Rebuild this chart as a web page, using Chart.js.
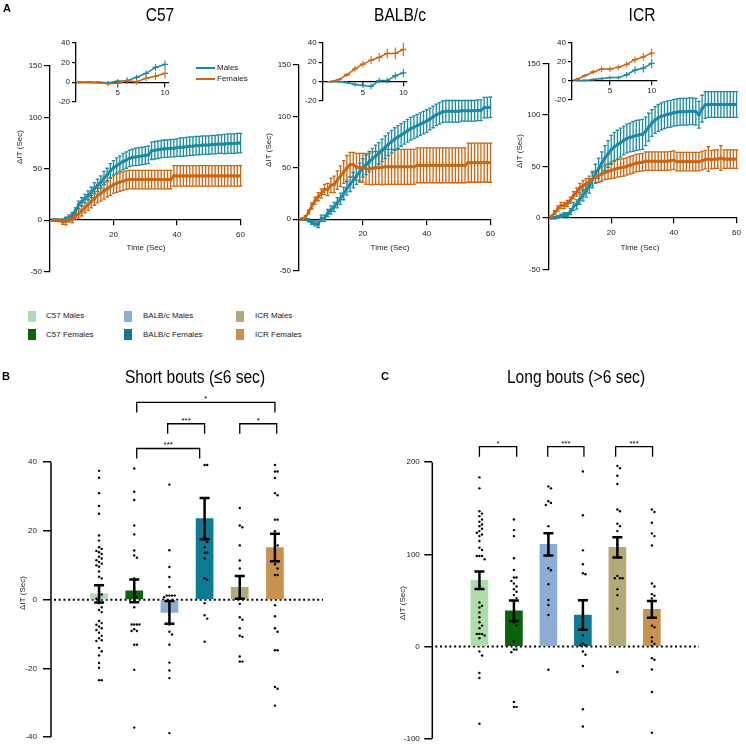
<!DOCTYPE html>
<html>
<head>
<meta charset="utf-8">
<title>ΔIT by strain and sex</title>
<script src="https://cdn.jsdelivr.net/npm/chart.js@4.4.1/dist/chart.umd.min.js"></script>
<style>
  html, body { margin: 0; padding: 0; background: #fff; }
  body { position: relative; width: 746px; height: 748px; overflow: hidden;
         font-family: "Liberation Sans", Arial, sans-serif; color: #000; }
  canvas { position: absolute; }
  .txt { position: absolute; white-space: nowrap; }
  .panel { font-weight: bold; font-size: 11px; line-height: 11px; }
  .title { font-size: 19px; line-height: 19px; transform: translateX(-50%) scaleX(0.82); }
  .leg { font-size: 8px; line-height: 10px; color: #222; }
  .sw { position: absolute; width: 8px; height: 11px; }
  .ln { position: absolute; width: 19px; height: 2px; }
</style>
</head>
<body>
<canvas id="c57" width="250" height="280" style="left:0;top:0"></canvas>
<canvas id="balb" width="250" height="280" style="left:250px;top:0"></canvas>
<canvas id="icr" width="246" height="280" style="left:500px;top:0"></canvas>
<canvas id="c57In" width="140" height="85" style="left:40px;top:30px"></canvas>
<canvas id="balbIn" width="130" height="85" style="left:290px;top:30px"></canvas>
<canvas id="icrIn" width="130" height="85" style="left:540px;top:30px"></canvas>
<canvas id="short" width="373" height="388" style="left:0;top:360px"></canvas>
<canvas id="long" width="373" height="388" style="left:373px;top:360px"></canvas>

<div class="txt panel" style="left:3px;top:3px">A</div>
<div class="txt title" style="left:160px;top:5px">C57</div>
<div class="txt title" style="left:400px;top:5px">BALB/c</div>
<div class="txt title" style="left:642px;top:5px">ICR</div>

<div class="ln" style="left:196px;top:67px;background:#1b8aa3"></div>
<div class="txt leg" style="left:217px;top:63px">Males</div>
<div class="ln" style="left:196px;top:78px;background:#cc6510"></div>
<div class="txt leg" style="left:217px;top:74px">Females</div>

<div class="sw" style="left:28px;top:311px;background:#aedcaa"></div>
<div class="txt leg" style="left:46px;top:311px">C57 Males</div>
<div class="sw" style="left:28px;top:329px;background:#0a620a"></div>
<div class="txt leg" style="left:46px;top:330px">C57 Females</div>
<div class="sw" style="left:124px;top:311px;background:#8eadd6"></div>
<div class="txt leg" style="left:143px;top:311px">BALB/c Males</div>
<div class="sw" style="left:124px;top:329px;background:#0d7b92"></div>
<div class="txt leg" style="left:143px;top:330px">BALB/c Females</div>
<div class="sw" style="left:236px;top:311px;background:#b3aa77"></div>
<div class="txt leg" style="left:255px;top:311px">ICR Males</div>
<div class="sw" style="left:236px;top:329px;background:#c8924e"></div>
<div class="txt leg" style="left:255px;top:330px">ICR Females</div>

<div class="txt panel" style="left:2px;top:371px">B</div>
<div class="txt title" style="left:195px;top:367px">Short bouts (≤6 sec)</div>
<div class="txt panel" style="left:381px;top:371px">C</div>
<div class="txt title" style="left:576px;top:367px">Long bouts (&gt;6 sec)</div>

<script>
// time course, 1 s bins
const seconds = Array.from({ length: 60 }, (_, i) => i + 1);
const timeTicks = [20, 40, 60];
const insetTicks = [5, 10];

const c57Males = [0, 0, 0, -0.5, 1, 1.5, 5, 9, 15, 18,
  21, 24, 27, 31, 34, 37, 41, 44, 48, 51,
  53, 55, 57, 58.5, 60, 61, 61.5, 62, 62.5, 63,
  63.5, 67.5, 68, 68.5, 69, 69.5, 69.5, 70, 70, 70.5,
  71, 71, 71.5, 72, 72, 72.5, 72.5, 73, 73, 73,
  73.5, 73.5, 74, 74, 74, 74.5, 74.5, 74.5, 75, 75];
const c57MalesSem = [1, 1, 1, 1.5, 2, 2, 2.5, 3, 3.5, 4,
  4, 4.5, 5, 5.5, 6, 6, 6.5, 6.5, 7, 7,
  7.5, 7.5, 8, 8, 8, 8, 8.5, 8.5, 8.5, 8.5,
  8.5, 8.5, 8.5, 8.5, 8.5, 8.5, 8.5, 8.5, 8.5, 8.5,
  9, 9, 9, 9, 9, 9, 9, 9, 9, 9,
  9, 9, 9, 9, 9.5, 9.5, 9.5, 9.5, 9.5, 9.5];
const c57Females = [0, 0, -0.5, -1.5, -1, 1.5, 0.5, 4, 6, 9,
  12, 15, 18, 21, 24, 26, 28.5, 30.5, 32.5, 34.5,
  36, 37, 38, 39, 39.5, 39.5, 39.5, 39.5, 39.5, 39.5,
  39.5, 39.5, 39.5, 39.5, 39.5, 39.5, 39.5, 39.5, 43, 43,
  43, 43, 43, 43, 43, 43, 43, 43, 43, 43,
  43, 43, 43, 43, 43, 43, 43, 43, 43, 43];
const c57FemalesSem = [1, 1, 1, 2.5, 3.5, 3.5, 3, 3, 4, 5,
  5, 5.5, 6, 6.5, 7, 7.5, 8, 8, 8.5, 8.5,
  9, 9, 9, 9, 9, 9, 9, 9, 9, 9,
  9, 9, 9, 9, 9, 9, 9, 9, 10, 10,
  10, 10, 10, 10, 10, 10, 10, 10, 10, 10,
  10, 10, 10, 10, 10, 10, 10, 10, 10, 10];

const balbMales = [0, 0, -1, -3, -4, -5, 1, 1, 6, 9,
  12, 16, 20, 25, 30, 34, 38, 42, 46, 50,
  53, 56, 59, 61.5, 64, 67, 70, 73, 75.5, 78,
  80, 82, 84, 86, 88, 89.5, 91, 92.5, 94, 95.5,
  97.5, 99.5, 101.5, 103, 104.5, 105, 105, 105, 105, 105,
  105.5, 105.5, 105.5, 105.5, 105.5, 106, 106, 108.5, 108.5, 109];
const balbMalesSem = [1, 1, 1.5, 2, 2.5, 3, 3, 3, 3.5, 4,
  4.5, 5, 5.5, 6, 6.5, 7, 7.5, 8, 8.5, 9,
  9.5, 10, 10, 10.5, 10.5, 11, 11, 11, 11, 11,
  11, 11, 11, 11, 11, 11, 11, 11, 11, 11,
  10.5, 10.5, 10.5, 10.5, 10.5, 10.5, 10.5, 10.5, 10.5, 10.5,
  10, 10, 10, 10, 10, 10, 10, 10, 10, 10];
const balbFemales = [0, 2, 7, 13, 18, 22, 25, 29, 29, 33,
  34, 38, 42, 46, 50, 53, 53, 51, 50, 50,
  49, 49, 49.5, 50, 50, 50.5, 51, 51, 51, 51,
  51, 51, 51, 51, 51, 51, 52.5, 52.5, 52.5, 52.5,
  52.5, 52.5, 52.5, 52.5, 52.5, 52.5, 52.5, 52.5, 52.5, 52.5,
  52.5, 52.5, 55, 55, 55, 55, 55, 55, 55, 55];
const balbFemalesSem = [1, 1.5, 2, 3, 3.5, 4, 4.5, 5, 6, 7,
  8, 9, 10, 11, 12, 12, 12, 13, 14, 14,
  15, 15, 16, 16, 16, 17, 17, 17, 17, 17,
  17, 17, 17, 17, 17, 17, 17, 17, 17, 17,
  17, 17, 17, 17, 17, 17, 17, 17, 17, 17,
  17, 17, 19, 19, 19, 19, 19, 19, 19, 19];

const icrMales = [0, 0, 1, 2, 3, 3, 6, 11, 13, 18,
  22, 26, 31, 37, 43, 48, 53, 58, 62, 66,
  69, 71, 73, 75, 77, 78, 79, 80, 80.5, 81,
  84, 88, 92, 95, 97, 98.5, 99.5, 100.5, 101, 102,
  102.5, 103, 103, 103, 103.5, 103.5, 103, 100, 106, 109.5,
  110, 110, 110, 110, 110, 110, 110, 110, 110, 110];
const icrMalesSem = [1, 1, 1, 1.5, 2, 2, 3, 4, 4.5, 5,
  5.5, 6, 7, 8, 9, 10, 11, 12, 13, 14,
  14, 14, 14, 14, 14, 14, 14.5, 14.5, 14.5, 14.5,
  14, 13.5, 13, 13, 13, 13, 13, 13, 13, 13,
  13, 13, 13, 13, 13, 13, 13, 13, 13, 13,
  12.5, 12.5, 12.5, 12.5, 12.5, 12.5, 12.5, 12.5, 12.5, 12.5];
const icrFemales = [1, 5, 9, 12, 12, 14, 17, 22, 25, 29,
  31, 33, 35, 37.5, 39.5, 41, 42.5, 44, 45, 46,
  47, 48, 48.5, 49, 50, 51, 52, 53, 53.5, 54,
  55, 55, 55, 55, 55, 55, 55, 55, 55.5, 56,
  54.5, 54.5, 54.5, 54.5, 54.5, 54.5, 54.5, 54.5, 55.5, 56.5,
  57, 56.5, 57, 57, 58, 57, 57, 57, 57, 57];
const icrFemalesSem = [1.5, 2, 2.5, 3, 3, 3, 3, 3.5, 4, 4.5,
  5, 5, 5.5, 6, 6, 6.5, 7, 7, 7.5, 8,
  8.5, 8.5, 8.5, 8.5, 8.5, 8.5, 8.5, 8.5, 8.5, 8.5,
  9, 9, 9, 9, 9, 9, 9, 9, 9, 9,
  9, 9, 9, 9, 9, 9, 9, 9, 9, 9,
  12, 9, 9, 9, 12, 9, 9, 9, 9, 9];

// bout summaries
const groups = ['C57 Males', 'C57 Females', 'BALB/c Males', 'BALB/c Females', 'ICR Males', 'ICR Females'];
const shortMeans = [1.7, 2.6, -3.7, 23.6, 3.6, 15.2];
const shortSem = [2.5, 3.3, 3.3, 6.0, 3.3, 4.0];
const shortTicks = [-40, -20, 0, 20, 40];
const shortPoints = [
  [37.5, 35.5, 31, 27.3, 25, 18.7, 17.2, 15.3, 14.8, 14.2, 13.8, 13.3, 12.5, 12, 11.5, 11, 10.5, 10, 9.6, 8.2,
   6.7, 6.2, 2.4, 1.5, 0.8, 0.3, -1, -2.2, -3, -3.6, -6.2, -6.8, -7.3, -7.8, -8.3, -8.8, -9.6, -10.5, -11.2,
   -11.8, -12, -14, -15, -16.2, -18.4, -19.8, -23.4, -23.4],
  [38.2, 31.4, 29, 21.6, 19, 14.3, 12.9, 12.2, 6.2, 3.4, 1, 0.7, -2.2, -7.2, -7.2, -7.2, -7.2, -8.6, -9.1, -9.1,
   -13.1, -13.1, -20.4, -37.2],
  [33.5, 14.4, 9.5, 6.6, 3.7, 1.2, 1.2, 1.2, 1.2, 0.7, -7.2, -9.3, -10.1, -13.1, -18.3, -20.6, -22.8, -38.8],
  [39.2, 39.2, 17.9, 16.8, 15.3, 13.7, 13.7, 12, 6.2, 5.8, -1, -4.5, -5.5, -12.2],
  [26.7, 21.6, 21.1, 15.8, 11.4, 9.1, 6.7, 0.7, -1.2, -5.1, -5.8, -8.3, -10.5, -10.8, -16.5, -18, -18],
  [39.2, 37.3, 37.3, 35.4, 31, 30.4, 23.3, 23.3, 19.9, 16.3, 15.8, 12.2, 11.2, 10.3, 9.1, 7.2, 7.2, -1.6, -4.8,
   -8.3, -9.3, -14.7, -14.7, -25.4, -25.9, -30.8]
];
const shortComparisons = [
  { from: 2.07, to: 6.0, y: 57.4, label: '*' },
  { from: 2.95, to: 4.0, y: 51.2, label: '***' },
  { from: 5.0, to: 6.05, y: 51.2, label: '*' },
  { from: 2.07, to: 3.86, y: 44.0, label: '***' }
];

const longMeans = [71.9, 38.8, 110.8, 34.2, 107.6, 40.3];
const longSem = [9.5, 11, 12, 16, 11, 9.2];
const longTicks = [-100, 0, 100, 200];
const longPoints = [
  [183.5, 171.6, 146.8, 144.2, 141.4, 137.8, 135.3, 132.4, 130.6, 127.7, 125.2, 123.4, 121.6, 119.8, 114.4,
   107.2, 104.7, 98.2, 98.2, 98.2, 94.6, 65.8, 47.8, 44.2, 42.4, 37, 31.7, 26.3, 22.7, 19.8, 13.7, 13.7, 13.7,
   11.9, 9, -5.4, -9.7, -28.8, -34.2, -83.8],
  [137.8, 126.3, 119.8, 95.7, 83.1, 74.8, 74.8, 71.2, 68.3, 65.1, 62.2, 59.4, 55.8, 52.5, 31.7, 26.3, 22.7, 5.4,
   -3.2, -3.2, -6.1, -60.1, -65.5, -65.5],
  [173.7, 171.6, 157.6, 155.8, 153.6, 130.6, 119.8, 84.9, 82.7, 67.6, 50.4, 45, 34.2, -25.2],
  [189.9, 142.4, 104.3, 89.2, 79.5, 78.4, 11.9, 3.6, 1.1, 1.1, -5.4, -9, -21.2, -68, -86.7],
  [196, 193.5, 185.3, 176.3, 148.6, 146.8, 133.1, 130.6, 125.2, 110.8, 76.6, 74.1, 74.1, 74.1, 62.2, 55.8, 41, -27.7],
  [148.6, 146, 134.2, 122.7, 119.8, 109.7, 68.3, 65.1, 56.8, 55, 52.2, 22.7, 20.9, 10.1, 5.4, 2.9, 0.4, -12.6,
   -14.4, -24.8, -49.3, -93.5]
];
const longComparisons = [
  { from: 1.0, to: 2.08, y: 216.8, label: '*' },
  { from: 2.98, to: 4.03, y: 216.8, label: '***' },
  { from: 4.95, to: 6.02, y: 216.8, label: '***' }
];

const teal = '#1b8aa3';
const orange = '#cc6510';
const barColors = ['#aedcaa', '#0a620a', '#8eadd6', '#0d7b92', '#b3aa77', '#c8924e'];
const FONT = '"Liberation Sans", Arial, sans-serif';

Chart.defaults.font.family = FONT;
Chart.defaults.font.size = 8;
Chart.defaults.color = '#222';

// vertical SEM bars, under the lines or over the bars
function drawErrors(chart) {
  const ctx = chart.ctx;
  const yScale = chart.scales.y;
  chart.data.datasets.forEach((ds, di) => {
    if (!ds.errors) return;
    const meta = chart.getDatasetMeta(di);
    ctx.save();
    ctx.strokeStyle = ds.errorColor || ds.borderColor;
    ctx.lineWidth = ds.errorWidth || 1;
    meta.data.forEach((el, i) => {
      const v = ds.data[i].y, e = ds.errors[i];
      const x = el.x;
      const top = yScale.getPixelForValue(v + e);
      const bot = yScale.getPixelForValue(v - e);
      ctx.beginPath();
      ctx.moveTo(x, top);
      ctx.lineTo(x, bot);
      if (ds.errorCap) {
        const c = ds.errorCap / 2;
        ctx.moveTo(x - c, top); ctx.lineTo(x + c, top);
        ctx.moveTo(x - c, bot); ctx.lineTo(x + c, bot);
      }
      ctx.stroke();
    });
    ctx.restore();
  });
}

const errorBars = {
  id: 'errorBars',
  beforeDatasetsDraw(chart, args, opts) { if (!opts.over) drawErrors(chart); },
  afterDatasetsDraw(chart, args, opts) { if (opts.over) drawErrors(chart); }
};

// axis titles, partial axis line, zero line, significance brackets
const decor = {
  id: 'decor',
  beforeDatasetsDraw(chart, args, o) {
    if (!o.zeroDots) return;
    const ctx = chart.ctx, area = chart.chartArea;
    const y0 = chart.scales.y.getPixelForValue(0);
    ctx.save();
    ctx.strokeStyle = '#000';
    ctx.lineWidth = 2;
    ctx.setLineDash([2, 2.7]);
    ctx.beginPath();
    ctx.moveTo(area.left + 3, y0);
    ctx.lineTo(area.right, y0);
    ctx.stroke();
    ctx.restore();
  },
  afterDraw(chart, args, o) {
    const ctx = chart.ctx, area = chart.chartArea;
    const xs = chart.scales.x, ys = chart.scales.y;
    ctx.save();
    if (o.axisLine) {
      ctx.strokeStyle = '#000';
      ctx.lineWidth = 1.5;
      ctx.beginPath();
      ctx.moveTo(area.left, ys.getPixelForValue(o.axisLine[1]));
      ctx.lineTo(area.left, ys.getPixelForValue(o.axisLine[0]));
      ctx.stroke();
    }
    if (o.brackets) {
      ctx.strokeStyle = '#000';
      ctx.fillStyle = '#000';
      ctx.lineWidth = 1.3;
      ctx.font = '8px ' + FONT;
      ctx.textAlign = 'center';
      ctx.textBaseline = 'alphabetic';
      o.brackets.forEach(b => {
        const x1 = xs.getPixelForValue(b.from), x2 = xs.getPixelForValue(b.to);
        const y = ys.getPixelForValue(b.y);
        ctx.beginPath();
        ctx.moveTo(x1, y + o.legPx);
        ctx.lineTo(x1, y);
        ctx.lineTo(x2, y);
        ctx.lineTo(x2, y + o.legPx);
        ctx.stroke();
        ctx.fillText(b.label, (x1 + x2) / 2, y - 1);
      });
    }
    ctx.fillStyle = '#222';
    ctx.font = '8px ' + FONT;
    ctx.textAlign = 'center';
    ctx.textBaseline = 'middle';
    if (o.yTitle) {
      ctx.save();
      ctx.translate(o.yTitle.x, o.yTitle.y);
      ctx.rotate(-Math.PI / 2);
      ctx.fillText(o.yTitle.text, 0, 0);
      ctx.restore();
    }
    if (o.xTitle) ctx.fillText(o.xTitle.text, o.xTitle.x, o.xTitle.y);
    ctx.restore();
  }
};

function lineSet(label, means, sems, color, n, inset) {
  return {
    label,
    data: means.slice(0, n).map((v, i) => ({ x: seconds[i], y: v })),
    errors: sems.slice(0, n),
    borderColor: color,
    backgroundColor: color,
    borderWidth: inset ? 1.5 : 2.5,
    pointStyle: inset ? 'line' : 'rect',
    pointRadius: inset ? 3 : 1.6,
    pointBorderWidth: inset ? 1.3 : 1,
    errorCap: inset ? 0 : 3.5,
    errorWidth: inset ? 1.1 : 1.3
  };
}

function axisStyle(tickLength) {
  return {
    grid: { drawOnChartArea: false, drawTicks: true, tickLength, color: '#000', lineWidth: 1.2 },
    border: { display: true, color: '#000', width: 1.3 }
  };
}

function strainChart(id, males, malesSem, females, femalesSem, g) {
  return new Chart(document.getElementById(id), {
    type: 'line',
    data: { datasets: [
      lineSet('Females', females, femalesSem, orange, 60, false),
      lineSet('Males', males, malesSem, teal, 60, false)
    ] },
    options: {
      responsive: false, animation: false, events: [],
      layout: { padding: g.pad },
      scales: {
        x: Object.assign({ type: 'linear', min: 0, max: 60, position: { y: 0 },
          afterBuildTicks: s => { s.ticks = timeTicks.map(v => ({ value: v })); },
          ticks: { padding: 5 } }, axisStyle(5)),
        y: Object.assign({ min: -50, max: 150, ticks: { stepSize: 50, padding: 2 },
          afterFit: s => { s.width = g.axisW; } }, axisStyle(6))
      },
      plugins: {
        legend: { display: false }, tooltip: { enabled: false },
        errorBars: { over: false },
        decor: { yTitle: { text: 'ΔIT (Sec)', x: g.yt[0], y: g.yt[1] },
                 xTitle: { text: 'Time (Sec)', x: g.xt[0], y: g.xt[1] } }
      }
    },
    plugins: [errorBars, decor]
  });
}

function insetChart(id, males, malesSem, females, femalesSem, g) {
  return new Chart(document.getElementById(id), {
    type: 'line',
    data: { datasets: [
      lineSet('Females', females, femalesSem, orange, 10, true),
      lineSet('Males', males, malesSem, teal, 10, true)
    ] },
    options: {
      responsive: false, animation: false, events: [],
      layout: { padding: g.pad },
      scales: {
        x: Object.assign({ type: 'linear', min: g.xMin, max: g.xMax, position: { y: 0 },
          afterBuildTicks: s => { s.ticks = insetTicks.map(v => ({ value: v })); },
          ticks: { padding: 2 } }, axisStyle(4)),
        y: Object.assign({ min: -20, max: 40, ticks: { stepSize: 20, padding: 2 },
          afterFit: s => { s.width = g.axisW; } }, axisStyle(4))
      },
      plugins: { legend: { display: false }, tooltip: { enabled: false }, errorBars: { over: false } }
    },
    plugins: [errorBars]
  });
}

// spread overlapping dots sideways
function swarm(vals, gap, step) {
  const placed = [];
  return vals.map(v => {
    for (let k = 0; ; k++) {
      const slot = k === 0 ? 0 : (k % 2 ? Math.ceil(k / 2) : -k / 2);
      if (!placed.some(p => p.s === slot && Math.abs(p.v - v) < gap)) {
        placed.push({ s: slot, v });
        return slot * step;
      }
    }
  });
}

function boutChart(id, means, sems, points, comps, ticks, g) {
  const offsets = points.map(vals => swarm(vals, g.gap, 0.075));
  return new Chart(document.getElementById(id), {
    type: 'bar',
    data: { datasets: [
      { type: 'bar', label: 'mean', data: means.map((v, i) => ({ x: i + 1, y: v })),
        errors: sems, errorCap: 10, errorWidth: 2.5, errorColor: '#000',
        backgroundColor: barColors, borderWidth: 0, barThickness: 17, order: 2 },
      { type: 'scatter', label: 'animals',
        data: points.flatMap((vals, gi) => vals.map((v, k) => ({ x: gi + 1 + offsets[gi][k], y: v }))),
        pointRadius: 1.2, pointBackgroundColor: '#000', pointBorderWidth: 0, order: 1 }
    ] },
    options: {
      responsive: false, animation: false, events: [],
      layout: { padding: g.pad },
      scales: {
        x: { type: 'linear', min: 0.6, max: 6.4, display: false },
        y: { min: g.yMin, max: g.yMax,
          afterBuildTicks: s => { s.ticks = ticks.map(v => ({ value: v })); },
          afterFit: s => { s.width = g.axisW; },
          ticks: { padding: g.tickPad },
          grid: { drawOnChartArea: false, drawTicks: true, tickLength: 8, color: '#000', lineWidth: 1.5 },
          border: { display: false } }
      },
      plugins: {
        legend: { display: false }, tooltip: { enabled: false },
        errorBars: { over: true },
        decor: { zeroDots: true, axisLine: [ticks[0], ticks[ticks.length - 1]],
                 brackets: comps, legPx: 10,
                 yTitle: { text: 'ΔIT (Sec)', x: g.yt[0], y: g.yt[1] } }
      }
    },
    plugins: [errorBars, decor]
  });
}

strainChart('c57', c57Males, c57MalesSem, c57Females, c57FemalesSem,
  { pad: { left: 0, top: 66, right: 6, bottom: 8.5 }, axisW: 50, yt: [20, 147], xt: [146, 248] });
strainChart('balb', balbMales, balbMalesSem, balbFemales, balbFemalesSem,
  { pad: { left: 0, top: 65, right: 9.3, bottom: 9.3 }, axisW: 49, yt: [19, 150], xt: [140, 248] });
strainChart('icr', icrMales, icrMalesSem, icrFemales, icrFemalesSem,
  { pad: { left: 0, top: 63.3, right: 4.3, bottom: 10.7 }, axisW: 48.5, yt: [19.5, 151], xt: [140, 248] });

insetChart('c57In', c57Males, c57MalesSem, c57Females, c57FemalesSem,
  { pad: { left: 0, top: 12.7, right: 11.7, bottom: 13 }, axisW: 36, xMin: 0.6, xMax: 10.35 });
insetChart('balbIn', balbMales, balbMalesSem, balbFemales, balbFemalesSem,
  { pad: { left: 0, top: 12.7, right: 13, bottom: 14 }, axisW: 32.7, xMin: 0, xMax: 10.45 });
insetChart('icrIn', icrMales, icrMalesSem, icrFemales, icrFemalesSem,
  { pad: { left: 0, top: 12.7, right: 13.3, bottom: 15.7 }, axisW: 32, xMin: 0.45, xMax: 10.6 });

boutChart('short', shortMeans, shortSem, shortPoints, shortComparisons, shortTicks,
  { pad: { left: 0, top: 33.5, right: 50, bottom: 7 }, axisW: 51, yMin: -40, yMax: 60,
    gap: 1.3, tickPad: 6, yt: [22.7, 233] });
boutChart('long', longMeans, longSem, longPoints, longComparisons, longTicks,
  { pad: { left: 0, top: 74.5, right: 47, bottom: 7.7 }, axisW: 59.3, yMin: -100, yMax: 230,
    gap: 4.5, tickPad: 4.5, yt: [29.3, 243] });
</script>
</body>
</html>
